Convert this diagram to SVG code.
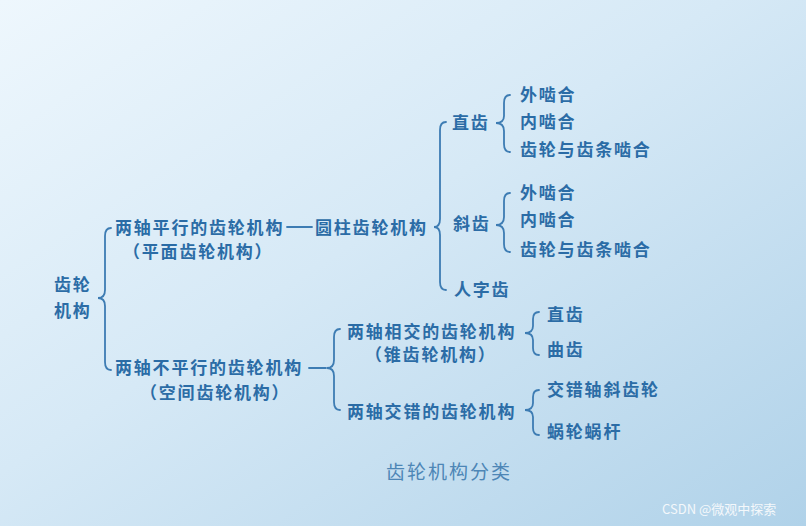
<svg xmlns="http://www.w3.org/2000/svg" width="806" height="526" viewBox="0 0 806 526">
<defs>
<linearGradient id="bg" x1="0" y1="0" x2="1" y2="1">
<stop offset="0" stop-color="#eef7fd"/>
<stop offset="0.45" stop-color="#d6e9f6"/>
<stop offset="1" stop-color="#b0d2e9"/>
</linearGradient>
</defs>
<style>
text{font-family:"Noto Sans CJK SC","Noto Sans CJK TC",sans-serif;font-size:17px;font-weight:bold;fill:#2b6ca6;letter-spacing:1.8px}
.cap{font-size:19px;font-weight:normal;fill:#4d86b6;letter-spacing:2px}
.wm{font-size:13px;font-weight:normal;fill:#f4f8fb;letter-spacing:0;font-family:"Noto Sans CJK SC","Liberation Sans",sans-serif}
.c path,.c line{fill:none;stroke:#3d7cb3;stroke-width:1.8;stroke-linecap:round}
</style>
<rect width="806" height="526" fill="url(#bg)"/>
<g class="c" id="connectors">
<path d="M111,228 Q105,228 105,236 L105,290 Q105,298 98,298 Q105,298 105,306 L105,362 Q105,370 111,370"/>
<line x1="287" y1="227" x2="312" y2="227"/>
<path d="M446,122 Q440,122 440,130 L440,219 Q440,227 434,227 Q440,227 440,235 L440,282 Q440,290 446,290"/>
<path d="M510,95 Q504,95 504,103 L504,116 Q504,123 496,123 Q504,123 504,131 L504,144 Q504,152 510,152"/>
<path d="M510,193 Q504,193 504,201 L504,217 Q504,225 496,225 Q504,225 504,233 L504,244 Q504,252 510,252"/>
<line x1="309" y1="368" x2="326" y2="368"/>
<path d="M340,329 Q334,329 334,337 L334,360 Q334,368 327,368 Q334,368 334,376 L334,402 Q334,410 340,410"/>
<path d="M539,312 Q533,312 533,319 L533,326 Q533,333 525,333 Q533,333 533,340 L533,348 Q533,355 539,355"/>
<path d="M539,390 Q533,390 533,397 L533,403 Q533,410 525,410 Q533,410 533,417 L533,428 Q533,435 539,435"/>
</g>
<g id="root"><text x="54" y="291">齿轮</text><text x="54" y="317">机构</text></g>
<g id="parallel"><text x="115" y="234">两轴平行的齿轮机构</text><text x="123" y="258">（平面齿轮机构）</text></g>
<g id="cylinder"><text x="315" y="234">圆柱齿轮机构</text></g>
<g id="spur"><text x="452" y="129">直齿</text></g>
<g id="spur-ext"><text x="520" y="101">外啮合</text></g>
<g id="spur-int"><text x="520" y="128">内啮合</text></g>
<g id="spur-rack"><text x="520" y="156">齿轮与齿条啮合</text></g>
<g id="helical"><text x="453" y="230">斜齿</text></g>
<g id="hel-ext"><text x="520" y="199">外啮合</text></g>
<g id="hel-int"><text x="520" y="226">内啮合</text></g>
<g id="hel-rack"><text x="520" y="256">齿轮与齿条啮合</text></g>
<g id="herring"><text x="454" y="296">人字齿</text></g>
<g id="nonparallel"><text x="115" y="374">两轴不平行的齿轮机构</text><text x="140" y="399">（空间齿轮机构）</text></g>
<g id="intersect"><text x="347" y="338">两轴相交的齿轮机构</text><text x="365" y="361">（锥齿轮机构）</text></g>
<g id="bevel-straight"><text x="547" y="321">直齿</text></g>
<g id="bevel-curved"><text x="547" y="356">曲齿</text></g>
<g id="crossed"><text x="347" y="418">两轴交错的齿轮机构</text></g>
<g id="crossed-helical"><text x="547" y="396">交错轴斜齿轮</text></g>
<g id="worm"><text x="547" y="438">蜗轮蜗杆</text></g>
<text class="cap" x="386" y="479">齿轮机构分类</text>
<text class="wm" x="662" y="514">CSDN @微观中探索</text>
</svg>
